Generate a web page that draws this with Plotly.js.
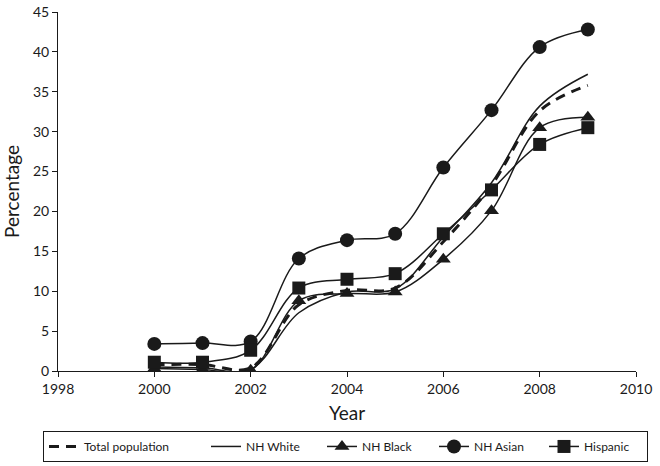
<!DOCTYPE html>
<html>
<head>
<meta charset="utf-8">
<script src="https://cdn.plot.ly/plotly-3.0.1.min.js"></script>
<style>html,body{margin:0;padding:0;background:#fff;}#chart{width:660px;height:466px;}</style>
</head>
<body>
<div id="chart"></div>
<script>
const years = [2000, 2001, 2002, 2003, 2004, 2005, 2006, 2007, 2008, 2009];
const totalPopulation = [0.8, 0.8, 0.4, 8.3, 10.1, 10.4, 16.2, 23.3, 32.6, 35.8];
const nhWhite = [0.5, 0.4, 0.2, 7.3, 9.9, 10.3, 16.8, 23.6, 33.2, 37.2];
const nhBlack = [0.3, 0.2, 0.1, 8.8, 9.7, 9.9, 14.0, 20.1, 30.5, 31.8];
const nhAsian = [3.4, 3.5, 3.7, 14.1, 16.4, 17.2, 25.5, 32.7, 40.6, 42.8];
const hispanic = [1.1, 1.1, 2.6, 10.4, 11.5, 12.2, 17.2, 22.7, 28.4, 30.5];
const xTicks = [1998, 2000, 2002, 2004, 2006, 2008, 2010];
const yTicks = [0, 5, 10, 15, 20, 25, 30, 35, 40, 45];

const ink = '#1a1a1a';
const FONT = 'Lato, "Open Sans", sans-serif';

const traces = [
  {x: years, y: totalPopulation, name: 'Total population', mode: 'lines',
   line: {color: ink, width: 3, dash: '10px,7px', shape: 'spline', smoothing: 1}, legendwidth: 117},
  {x: years, y: nhWhite, name: 'NH White', mode: 'lines',
   line: {color: ink, width: 1.5, shape: 'spline', smoothing: 1}, legendwidth: 71},
  {x: years, y: nhBlack, name: 'NH Black', mode: 'lines+markers',
   line: {color: ink, width: 1.5, shape: 'spline', smoothing: 1},
   marker: {symbol: 'triangle-up', size: 13, color: ink}, legendwidth: 67},
  {x: years, y: nhAsian, name: 'NH Asian', mode: 'lines+markers',
   line: {color: ink, width: 1.5, shape: 'spline', smoothing: 1},
   marker: {symbol: 'circle', size: 14, color: ink}, legendwidth: 65},
  {x: years, y: hispanic, name: 'Hispanic', mode: 'lines+markers',
   line: {color: ink, width: 1.5, shape: 'spline', smoothing: 1},
   marker: {symbol: 'square', size: 13, color: ink}, legendwidth: 58}
];

const axisCommon = {
  showline: true, linecolor: ink, linewidth: 1,
  ticks: 'outside', ticklen: 5, tickcolor: ink, tickwidth: 1,
  showgrid: false, zeroline: false,
  tickfont: {family: FONT, size: 14, color: ink}
};

const layout = {
  width: 660, height: 466,
  margin: {l: 58, r: 24, t: 12, b: 95, autoexpand: false},
  paper_bgcolor: '#fff', plot_bgcolor: '#fff',
  font: {family: FONT, color: ink},
  showlegend: true,
  legend: {
    orientation: 'h', x: (43 - 58) / 578, xanchor: 'left', y: -0.167, yanchor: 'top',
    bordercolor: ink, borderwidth: 1, font: {family: FONT, size: 12, color: ink},
    traceorder: 'normal'
  },
  xaxis: Object.assign({}, axisCommon, {
    range: [1998, 2010], tickvals: xTicks, ticktext: xTicks.map(String),
    title: {text: 'Year', font: {family: FONT, size: 19, color: ink}, standoff: 10}
  }),
  yaxis: Object.assign({}, axisCommon, {
    range: [0, 45], tickvals: yTicks, ticktext: yTicks.map(String),
    title: {text: 'Percentage', font: {family: FONT, size: 19, color: ink}, standoff: 8}
  })
};

Plotly.newPlot('chart', traces, layout, {displayModeBar: false, staticPlot: true});
</script>
</body>
</html>
